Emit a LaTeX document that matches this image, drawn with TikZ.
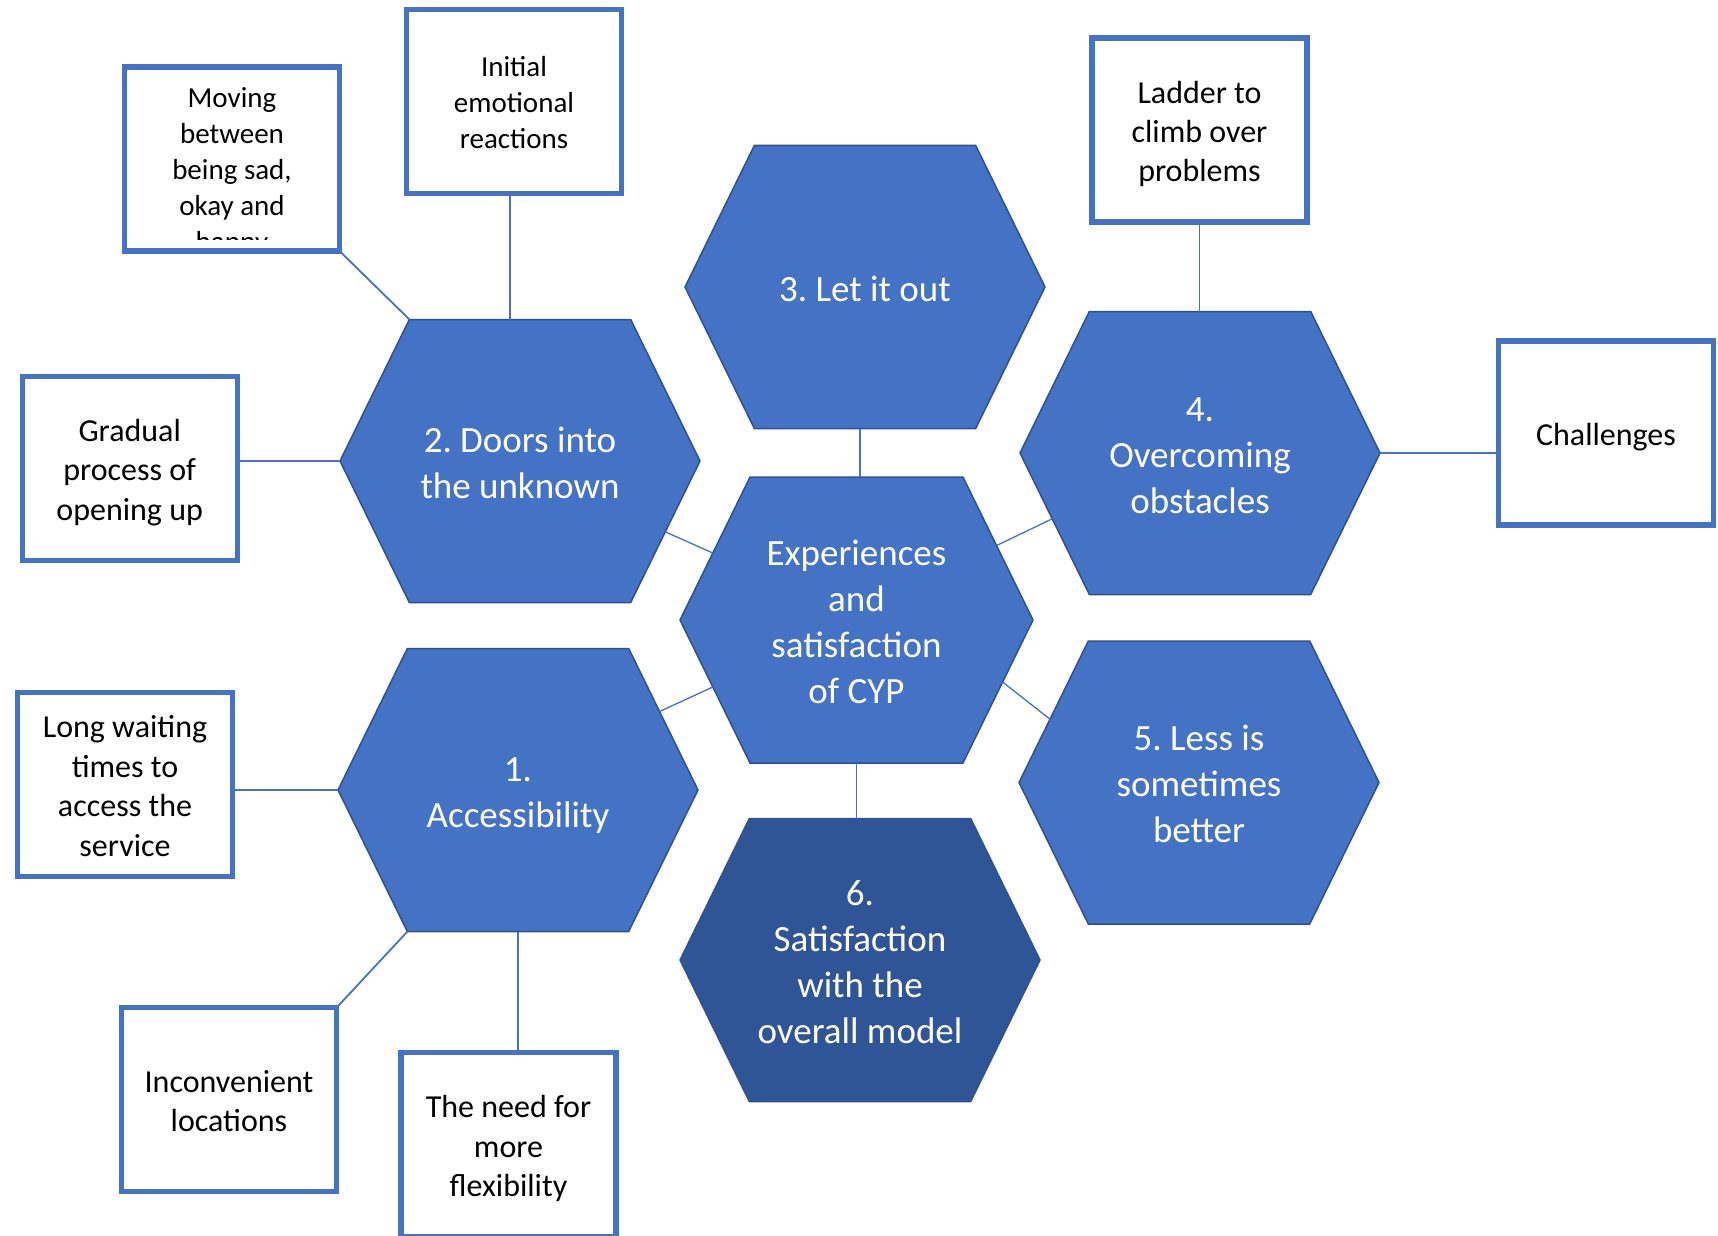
\documentclass[tikz,border=0pt]{standalone}
\usepackage{fontspec}
\setmainfont{Carlito}
\usepackage{tikz}
\usetikzlibrary{shapes,shapes.symbols,calc}
\definecolor{hexblue}{HTML}{4472C4}
\definecolor{hexdark}{HTML}{2F5597}
\definecolor{hexedge}{HTML}{2F528F}
\definecolor{boxblue}{HTML}{4472C4}
\frenchspacing
% fixed line boxes, so text sits as in the slide
\newcommand{\txttop}{\rule{0pt}{1.1em}}
\newcommand{\txtbot}{\rule[-0.32em]{0pt}{0pt}}

\begin{document}
\begin{tikzpicture}[x=1pt,y=-1pt]

	\tikzstyle{theme}=[signal, signal to=east and west, signal pointer angle=127.8,
	minimum width=360pt, minimum height=283pt, inner sep=0pt, outer sep=0pt,
	fill=hexblue, draw=hexedge, line width=1.5pt, text=white, align=center,
	font=\fontsize{37}{46}\selectfont]

	\tikzstyle{subtheme}=[rectangle, draw=boxblue, line width=5.3pt, fill=white,
	minimum width=215pt, minimum height=184pt, inner sep=0pt, outer sep=0pt,
	text=black, align=center, font=\fontsize{32}{39.4}\selectfont]

	\tikzstyle{link}=[draw=boxblue, line width=1.8pt]

	\useasboundingbox (0,0) rectangle (1718,1236);

	%themes
	\node[theme, minimum width=353pt, minimum height=286pt]
	(hexC) at (856.5,620)
	{\txttop Experiences\\and\\satisfaction\\of CYP\txtbot};

	\node[theme]
	(hexT) at (865,287)
	{\txttop 3. Let it out\txtbot};

	\node[theme]
	(hexB) at (520,461)
	{\txttop 2. Doors into\\the unknown\txtbot};

	\node[theme]
	(hexD) at (1200,453)
	{\txttop 4.\\Overcoming\\obstacles\txtbot};

	\node[theme]
	(hexA) at (518,790)
	{\txttop 1.\\Accessibility\txtbot};

	\node[theme]
	(hexE) at (1199,782.5)
	{\txttop 5. Less is\\sometimes\\better\txtbot};

	\node[theme, fill=hexdark]
	(hexS) at (860,960)
	{\txttop 6.\\Satisfaction\\with the\\overall model\txtbot};

	%subthemes
	\node[subtheme, font=\fontsize{29}{36}\selectfont]
	(init) at (514,101.5)
	{\txttop Initial\\emotional\\reactions\txtbot};

	\node[subtheme, path picture={
		\clip ($(path picture bounding box.south west)+(0,-12)$)
			rectangle (path picture bounding box.north east);
		\node[draw=none, inner sep=0pt, align=center, text=black,
			font=\fontsize{29}{36}\selectfont]
			at ($(path picture bounding box.center)+(0,13)$)
			{Moving\\between\\being sad,\\okay and\\happy};}]
	(moving) at (232,159)
	{};

	\node[subtheme]
	(ladder) at (1199.5,130)
	{\txttop Ladder to\\climb over\\problems\txtbot};

	\node[subtheme]
	(chall) at (1606,433)
	{\txttop Challenges\txtbot};

	\node[subtheme]
	(grad) at (129.7,468.5)
	{\txttop Gradual\\process of\\opening up\txtbot};

	\node[subtheme]
	(longw) at (125,784.5)
	{\txttop Long waiting\\times to\\access the\\service\txtbot};

	\node[subtheme]
	(inconv) at (229,1099.7)
	{\txttop Inconvenient\\locations\txtbot};

	\node[subtheme]
	(flex) at (508.5,1144.6)
	{\txttop The need for\\more\\flexibility\txtbot};

	\draw[link] ($(hexB.north)+(-10,0)$) coordinate (initfoot)
		-- (initfoot |- init.south);
	\draw[link] (moving.south east) -- (hexB.128);
	\draw[link] (hexB.west) -- (hexB.west -| grad.east);

	\draw[link] (hexA.west) -- (hexA.west -| longw.east);
	\draw[link] (inconv.north east) -- (hexA.232);
	\draw[link] (hexA.south) -- (hexA.south |- flex.north);

	\draw[link] (ladder.south) -- (ladder.south |- hexD.north);
	\draw[link] (hexD.east) -- (hexD.east -| chall.west);

	\draw[link] ($(hexC.north)+(3.5,0)$) coordinate (topfoot)
		-- (topfoot |- hexT.south);
	\draw[link] (hexC.south) -- (hexC.south |- hexS.north);

	\draw[link, line width=1.3pt] (hexB.-26.6) -- (hexC.155.3);
	\draw[link, line width=1.3pt] (hexA.29) -- (hexC.205.9);
	\draw[link, line width=1.3pt] (hexD.204.7) -- (hexC.28.7);
	\draw[link, line width=1.3pt] (hexE.157.3) -- (hexC.-23.9);

\end{tikzpicture}
\end{document}
